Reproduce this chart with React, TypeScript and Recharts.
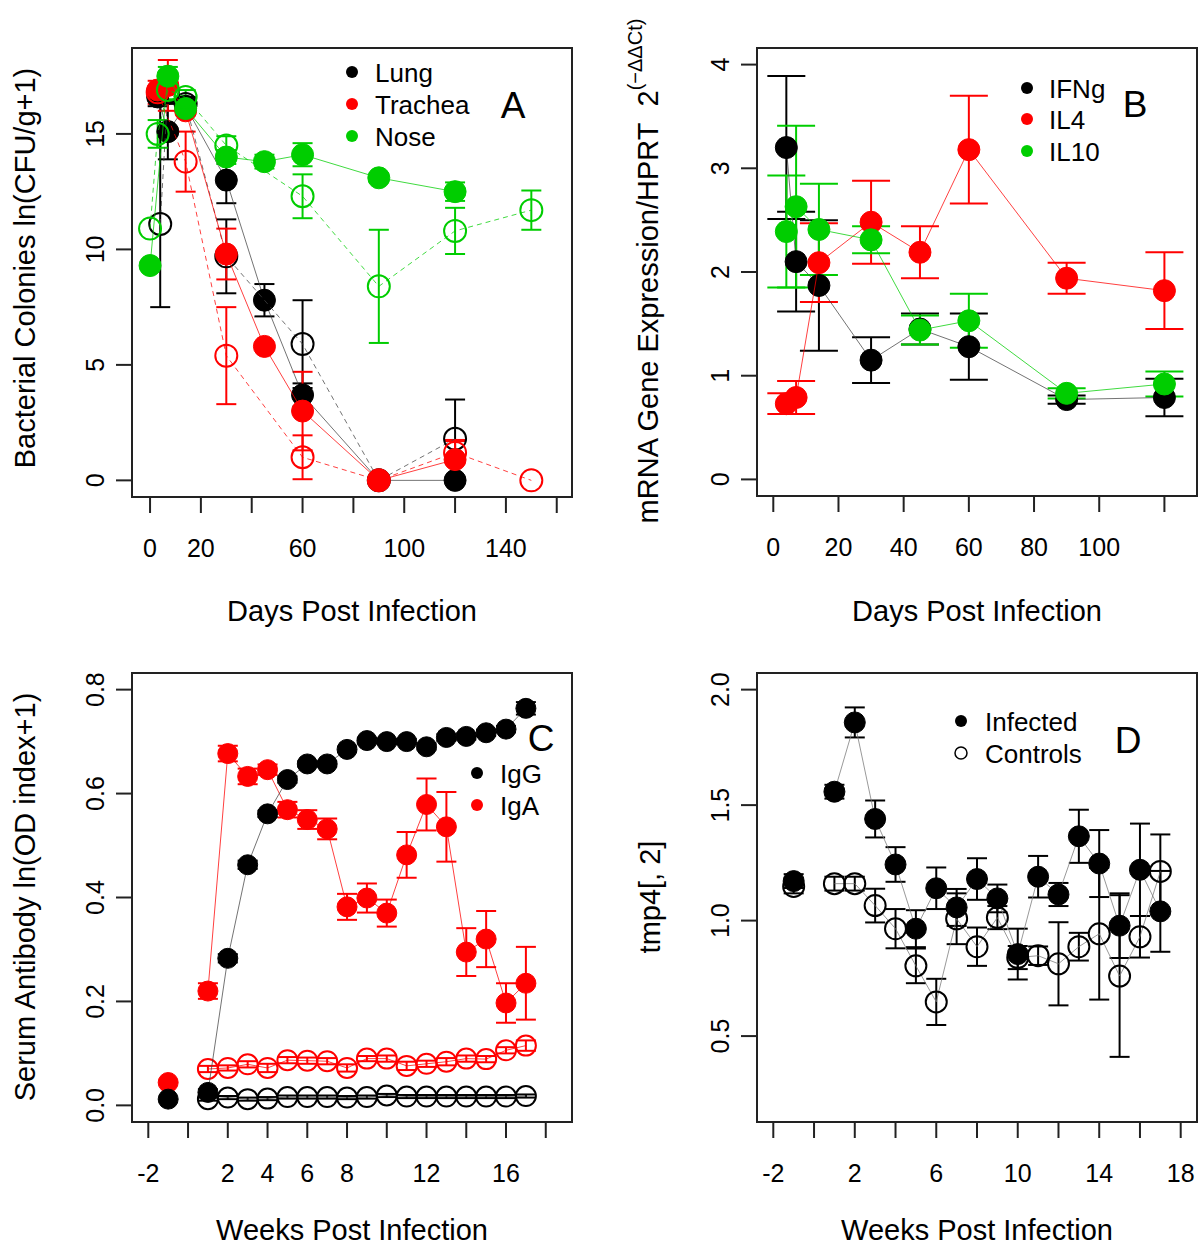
import React from "react";
import { ScatterChart, Scatter, XAxis, YAxis, ErrorBar, ReferenceArea } from "recharts";

const FONT = '"Liberation Sans", Arial, Helvetica, sans-serif';
const RED = "#ff0000";
const GREEN = "#00cd00";
const BLACK = "#000000";

// [x, mean, SE]; SE may be [below, above] or null when no bar is drawn
type Err = number | [number, number] | null;
type Row = [number, number, Err];

// A: bacterial colonies, ln(CFU/g+1), by day post infection
const lungInf: Row[] = [[3, 16.6, 0.4], [7, 15.1, 1.2], [14, 16.2, 0.3], [30, 13.0, 1.0], [45, 7.8, 0.7], [60, 3.7, 0.5], [90, 0, null], [120, 0, null]];
const lungAlt: Row[] = [[4, 11.1, [3.6, 5.2]], [7, 16.8, 0.4], [14, 16.3, 0.3], [30, 9.7, 1.6], [60, 5.9, 1.9], [90, 0, null], [120, 1.8, 1.7]];
const tracheaInf: Row[] = [[3, 16.9, null], [7, 17.1, 1.1], [14, 16.0, null], [30, 9.8, 1.1], [45, 5.8, null], [60, 3.0, 1.7], [90, 0, null], [120, 0.9, 0.85]];
const tracheaAlt: Row[] = [[3, 16.8, 0.5], [14, 13.8, 1.3], [30, 5.4, 2.1], [60, 1.0, 0.95], [90, 0, null], [120, 1.2, 0.5], [150, 0, null]];
const noseInf: Row[] = [[0, 9.3, null], [7, 17.5, 0.4], [14, 16.1, 0.3], [30, 14.0, 0.3], [45, 13.8, 0.3], [60, 14.1, 0.5], [90, 13.1, 0.2], [120, 12.5, 0.4]];
const noseAlt: Row[] = [[0, 10.9, null], [3, 15.0, 0.6], [7, 16.9, 0.4], [14, 16.6, 0.3], [30, 14.5, 0.4], [60, 12.3, 0.95], [90, 8.4, 2.45], [120, 10.8, 1.0], [150, 11.7, 0.85]];

// B: mRNA expression relative to HPRT, by day
const ifng: Row[] = [[4, 3.2, 0.69], [7, 2.1, 0.48], [14, 1.87, 0.63], [30, 1.15, 0.22], [45, 1.45, 0.15], [60, 1.28, 0.32], [90, 0.77, 0.04], [120, 0.79, 0.18]];
const il4: Row[] = [[4, 0.73, 0.1], [7, 0.79, 0.16], [14, 2.09, 0.38], [30, 2.48, 0.4], [45, 2.19, 0.25], [60, 3.18, 0.52], [90, 1.94, 0.15], [120, 1.82, 0.37]];
const il10: Row[] = [[4, 2.39, 0.54], [7, 2.63, 0.78], [14, 2.41, 0.44], [30, 2.31, 0.13], [45, 1.44, 0.14], [60, 1.53, 0.26], [90, 0.83, 0.05], [120, 0.92, 0.12]];

// C: serum antibody, ln(OD index+1), by week
const weeksC = [1, 2, 3, 4, 5, 6, 7, 8, 9, 10, 11, 12, 13, 14, 15, 16, 17];
const iggInf = [0.025, 0.283, 0.463, 0.561, 0.627, 0.657, 0.657, 0.685, 0.702, 0.7, 0.7, 0.69, 0.708, 0.71, 0.717, 0.724, 0.764];
const iggInfSe = [0.006, 0.008, 0.008, 0.006, 0.006, 0.005, 0.005, 0.005, 0.005, 0.005, 0.005, 0.005, 0.006, 0.006, 0.006, 0.006, 0.012];
const igaInf = [0.22, 0.677, 0.633, 0.646, 0.569, 0.55, 0.532, 0.382, 0.399, 0.37, 0.482, 0.579, 0.536, 0.295, 0.32, 0.197, 0.235];
const igaInfSe = [0.015, 0.015, 0.015, 0.01, 0.015, 0.018, 0.02, 0.025, 0.028, 0.026, 0.044, 0.05, 0.067, 0.046, 0.054, 0.038, 0.07];
const iggCtl = [0.012, 0.015, 0.012, 0.013, 0.016, 0.016, 0.016, 0.015, 0.016, 0.019, 0.017, 0.017, 0.017, 0.017, 0.017, 0.017, 0.018];
const iggCtlSe = [0.003, 0.003, 0.003, 0.003, 0.003, 0.003, 0.003, 0.003, 0.003, 0.003, 0.003, 0.003, 0.003, 0.003, 0.003, 0.003, 0.003];
const igaCtl = [0.07, 0.072, 0.079, 0.072, 0.087, 0.086, 0.085, 0.072, 0.09, 0.09, 0.076, 0.08, 0.084, 0.09, 0.089, 0.106, 0.115];
const igaCtlSe = [0.006, 0.005, 0.006, 0.008, 0.006, 0.006, 0.006, 0.007, 0.005, 0.006, 0.008, 0.006, 0.007, 0.006, 0.006, 0.006, 0.01];
const preBleedC: Row[] = [[-1, 0.012, null]];
const preBleedCIga: Row[] = [[-1, 0.044, null]];

// D: tmp4[, 2], infected vs controls, by week
const weeksD = [1, 2, 3, 4, 5, 6, 7, 8, 9, 10, 11, 12, 13, 14, 15, 16, 17];
const infected = [1.558, 1.858, 1.44, 1.243, 0.965, 1.14, 1.057, 1.18, 1.096, 0.855, 1.19, 1.113, 1.365, 1.247, 0.978, 1.22, 1.04];
const infectedSe = [0.03, 0.065, 0.08, 0.075, 0.08, 0.09, 0.08, 0.09, 0.06, 0.11, 0.09, 0.05, 0.115, 0.145, 0.14, 0.2, 0.175];
const controls = [1.16, 1.16, 1.065, 0.965, 0.804, 0.648, 1.008, 0.887, 1.013, 0.84, 0.848, 0.813, 0.887, 0.943, 0.76, 0.93, 1.213];
const controlsSe = [0.03, 0.03, 0.073, 0.085, 0.075, 0.1, 0.11, 0.083, 0.05, 0.05, 0.04, 0.18, 0.06, 0.285, 0.35, 0.09, 0.16];
const preInfected: Row[] = [[-1, 1.171, 0.03]];
const preControls: Row[] = [[-1, 1.148, 0.03]];

const zipRows = (xs: number[], ys: number[], se: number[]): Row[] => xs.map((x, i) => [x, ys[i], se[i]]);
const toPoints = (rows: Row[]) => rows.map(([x, y, se]) => ({ x, y, se }));

type Series = { rows: Row[]; color: string; open?: boolean; dashed?: boolean; joined?: boolean; lineColor?: string };

const marker = (r: number, color: string, open: boolean) => (p: any) => (
  <circle cx={p.cx} cy={p.cy} r={r} fill={open ? "none" : color} stroke={color} strokeWidth={open ? 2 : 1} />
);

const xTick = (labels: number[]) => (p: any) =>
  labels.includes(p.payload.value) ? (
    <text x={p.x} y={p.y + 33} textAnchor="middle" dominantBaseline="central" fontSize={25} fontFamily={FONT} fill="#000">
      {p.payload.value}
    </text>
  ) : (
    <g />
  );

const yTick = (digits: number) => (p: any) => {
  const x = p.x - 19;
  return (
    <text x={x} y={p.y} transform={`rotate(-90 ${x} ${p.y})`} textAnchor="middle" dominantBaseline="central" fontSize={25} fontFamily={FONT} fill="#000">
      {Number(p.payload.value).toFixed(digits)}
    </text>
  );
};

type PanelProps = {
  left: number;
  top: number;
  height: number;
  margin: { top: number; right: number; bottom: number; left: number };
  xDomain: [number, number];
  yDomain: [number, number];
  xTicks: number[];
  xLabels: number[];
  yTicks: number[];
  yDigits: number;
  r: number;
  cap: number;
  series: Series[];
};

function Panel(props: PanelProps) {
  const { left, top, height, margin, xDomain, yDomain, xTicks, xLabels, yTicks, yDigits, r, cap, series } = props;
  return (
    <div style={{ position: "absolute", left, top }}>
      <ScatterChart width={600} height={height} margin={margin}>
        <XAxis
          type="number"
          dataKey="x"
          domain={xDomain}
          ticks={xTicks}
          interval={0}
          allowDataOverflow
          axisLine={false}
          tickSize={16}
          tickLine={{ stroke: "#222", strokeWidth: 2 }}
          tick={xTick(xLabels)}
          height={60}
        />
        <YAxis
          type="number"
          dataKey="y"
          domain={yDomain}
          ticks={yTicks}
          interval={0}
          allowDataOverflow
          axisLine={false}
          tickSize={16}
          tickLine={{ stroke: "#222", strokeWidth: 2 }}
          tick={yTick(yDigits)}
          width={60}
        />
        <ReferenceArea x1={xDomain[0]} x2={xDomain[1]} y1={yDomain[0]} y2={yDomain[1]} fill="none" stroke="#222" strokeWidth={2} />
        {series.map((s, i) => (
          <Scatter
            key={i}
            data={toPoints(s.rows)}
            fill={s.color}
            shape={marker(r, s.color, !!s.open)}
            line={s.joined === false ? false : { stroke: s.lineColor ?? s.color, strokeWidth: 1, strokeOpacity: 0.75, strokeDasharray: s.dashed ? "5 4" : undefined }}
            isAnimationActive={false}
          >
            <ErrorBar dataKey="se" direction="y" width={cap} stroke={s.color} strokeWidth={2} />
          </Scatter>
        ))}
      </ScatterChart>
    </div>
  );
}

const txt = { fontFamily: FONT, fill: "#000" };

export default function App() {
  return (
    <div style={{ position: "absolute", left: 0, top: 0, width: 1200, height: 1249, background: "#fff", overflow: "hidden" }}>
      <Panel
        left={0}
        top={0}
        height={624}
        margin={{ top: 48, right: 28, bottom: 67, left: 72 }}
        xDomain={[-7.1, 166]}
        yDomain={[-0.72, 18.72]}
        xTicks={[0, 20, 40, 60, 80, 100, 120, 140, 160]}
        xLabels={[0, 20, 60, 100, 140]}
        yTicks={[0, 5, 10, 15]}
        yDigits={0}
        r={11}
        cap={10}
        series={[
          { rows: lungInf, color: BLACK, lineColor: "#444" },
          { rows: lungAlt, color: BLACK, lineColor: "#444", open: true, dashed: true },
          { rows: tracheaInf, color: RED },
          { rows: tracheaAlt, color: RED, open: true, dashed: true },
          { rows: noseInf, color: GREEN },
          { rows: noseAlt, color: GREEN, open: true, dashed: true },
        ]}
      />
      <Panel
        left={600}
        top={0}
        height={624}
        margin={{ top: 48, right: 3, bottom: 68, left: 97 }}
        xDomain={[-5, 130]}
        yDomain={[-0.16, 4.16]}
        xTicks={[0, 20, 40, 60, 80, 100, 120]}
        xLabels={[0, 20, 40, 60, 80, 100]}
        yTicks={[0, 1, 2, 3, 4]}
        yDigits={0}
        r={11}
        cap={19}
        series={[
          { rows: ifng, color: BLACK, lineColor: "#444" },
          { rows: il4, color: RED },
          { rows: il10, color: GREEN },
        ]}
      />
      <Panel
        left={0}
        top={624}
        height={625}
        margin={{ top: 49, right: 28, bottom: 67, left: 72 }}
        xDomain={[-2.82, 19.32]}
        yDomain={[-0.032, 0.832]}
        xTicks={[-2, 0, 2, 4, 6, 8, 10, 12, 14, 16, 18]}
        xLabels={[-2, 2, 4, 6, 8, 12, 16]}
        yTicks={[0, 0.2, 0.4, 0.6, 0.8]}
        yDigits={1}
        r={10}
        cap={10}
        series={[
          { rows: zipRows(weeksC, iggCtl, iggCtlSe), color: BLACK, lineColor: "#444", open: true },
          { rows: zipRows(weeksC, igaCtl, igaCtlSe), color: RED, open: true },
          { rows: preBleedCIga, color: RED, joined: false },
          { rows: zipRows(weeksC, igaInf, igaInfSe), color: RED },
          { rows: preBleedC, color: BLACK, joined: false },
          { rows: zipRows(weeksC, iggInf, iggInfSe), color: BLACK, lineColor: "#444" },
        ]}
      />
      <Panel
        left={600}
        top={624}
        height={625}
        margin={{ top: 49, right: 3, bottom: 67, left: 97 }}
        xDomain={[-2.8, 18.8]}
        yDomain={[0.128, 2.072]}
        xTicks={[-2, 0, 2, 4, 6, 8, 10, 12, 14, 16, 18]}
        xLabels={[-2, 2, 6, 10, 14, 18]}
        yTicks={[0.5, 1, 1.5, 2]}
        yDigits={1}
        r={10.5}
        cap={10}
        series={[
          { rows: preControls, color: BLACK, open: true, joined: false },
          { rows: zipRows(weeksD, controls, controlsSe), color: BLACK, lineColor: "#777", open: true },
          { rows: preInfected, color: BLACK, joined: false },
          { rows: zipRows(weeksD, infected, infectedSe), color: BLACK, lineColor: "#777" },
        ]}
      />

      {/* axis titles, legends and panel letters */}
      <svg width={1200} height={1249} style={{ position: "absolute", left: 0, top: 0, pointerEvents: "none" }}>
        <g {...txt} fontSize={29} textAnchor="middle">
          <text x={352} y={611} dominantBaseline="central">Days Post Infection</text>
          <text x={977} y={611} dominantBaseline="central">Days Post Infection</text>
          <text x={352} y={1230} dominantBaseline="central">Weeks Post Infection</text>
          <text x={977} y={1230} dominantBaseline="central">Weeks Post Infection</text>
          <text transform="translate(25 268) rotate(-90)" dominantBaseline="central">Bacterial Colonies ln(CFU/g+1)</text>
          <text transform="translate(648 271) rotate(-90)" dominantBaseline="central">
            {"mRNA Gene Expression/HPRT\u00a0\u00a02"}
            <tspan fontSize={20} dy={-13}>(−ΔΔCt)</tspan>
          </text>
          <text transform="translate(25 897) rotate(-90)" dominantBaseline="central">Serum Antibody ln(OD index+1)</text>
          <text transform="translate(650 897) rotate(-90)" dominantBaseline="central">tmp4[, 2]</text>
        </g>

        <g {...txt} fontSize={26} dominantBaseline="central">
          <circle cx={352} cy={72} r={6} fill={BLACK} />
          <text x={375} y={73}>Lung</text>
          <circle cx={352} cy={104} r={6} fill={RED} />
          <text x={375} y={105}>Trachea</text>
          <circle cx={352} cy={136} r={6} fill={GREEN} />
          <text x={375} y={137}>Nose</text>

          <circle cx={1027} cy={88} r={6} fill={BLACK} />
          <text x={1049} y={89}>IFNg</text>
          <circle cx={1027} cy={119} r={6} fill={RED} />
          <text x={1049} y={120}>IL4</text>
          <circle cx={1027} cy={151} r={6} fill={GREEN} />
          <text x={1049} y={152}>IL10</text>

          <circle cx={477} cy={773} r={6} fill={BLACK} />
          <text x={500} y={774}>IgG</text>
          <circle cx={477} cy={805} r={6} fill={RED} />
          <text x={500} y={806}>IgA</text>

          <circle cx={961} cy={721} r={6} fill={BLACK} />
          <text x={985} y={722}>Infected</text>
          <circle cx={961} cy={753} r={6} fill="none" stroke={BLACK} strokeWidth={1.5} />
          <text x={985} y={754}>Controls</text>
        </g>

        <g {...txt} fontSize={37} textAnchor="middle" dominantBaseline="central">
          <text x={513} y={105}>A</text>
          <text x={1135} y={104}>B</text>
          <text x={541} y={738}>C</text>
          <text x={1128} y={740}>D</text>
        </g>
      </svg>
    </div>
  );
}
